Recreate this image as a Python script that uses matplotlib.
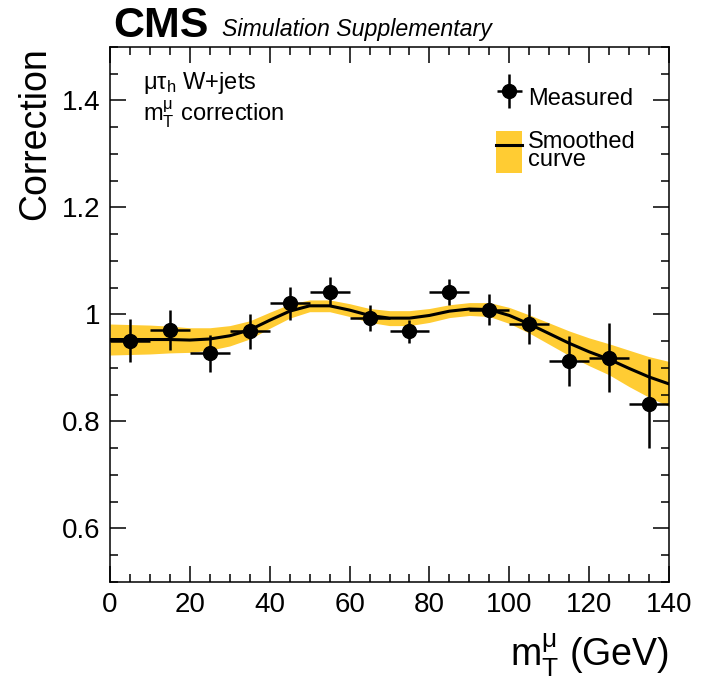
import numpy as np
import matplotlib
matplotlib.use("Agg")
import matplotlib.pyplot as plt
from matplotlib.patches import Patch
from matplotlib.lines import Line2D
from matplotlib.legend_handler import HandlerErrorbar, HandlerTuple
from matplotlib.ticker import MultipleLocator, FuncFormatter

plt.rcParams['font.family'] = ['Liberation Sans', 'DejaVu Sans']
plt.rcParams['mathtext.default'] = 'regular'

# Measured correction per 10 GeV bin in m_T
bin_centres = [5, 15, 25, 35, 45, 55, 65, 75, 85, 95, 105, 115, 125, 135]
bin_halfwidth = [5] * 14
corr = [0.951, 0.971, 0.927, 0.968, 1.021, 1.042, 0.993, 0.968, 1.042, 1.009,
        0.982, 0.913, 0.919, 0.833]
corr_err = [0.040, 0.038, 0.035, 0.032, 0.031, 0.027, 0.024, 0.022, 0.025, 0.029,
            0.038, 0.046, 0.065, 0.083]

# Smoothed curve and its uncertainty band
smooth_x = [0, 5, 10, 15, 20, 25, 30, 35, 40, 45, 50, 55, 60, 65, 70,
            75, 80, 85, 90, 95, 100, 105, 110, 115, 120, 125, 130, 135, 140]
smooth_y = [0.953, 0.953, 0.953, 0.953, 0.952, 0.954, 0.960, 0.971, 0.989, 1.006,
            1.016, 1.016, 1.008, 0.998, 0.993, 0.993, 0.998, 1.006, 1.010, 1.009,
            0.998, 0.982, 0.964, 0.946, 0.930, 0.916, 0.899, 0.883, 0.870]
smooth_err = [0.029, 0.028, 0.027, 0.025, 0.023, 0.021, 0.019, 0.017, 0.015, 0.013,
              0.011, 0.011, 0.012, 0.013, 0.014, 0.014, 0.013, 0.012, 0.012, 0.013,
              0.015, 0.017, 0.020, 0.023, 0.026, 0.029, 0.034, 0.038, 0.042]

band_col = '#ffcc33'

fig = plt.figure(figsize=(7.05, 6.79), dpi=100)
ax = fig.add_axes([0.156, 0.143, 0.793, 0.788])

sx = np.array(smooth_x)
sy = np.array(smooth_y)
se = np.array(smooth_err)
ax.fill_between(sx, sy - se, sy + se, color=band_col, lw=0, zorder=1)
ax.plot(sx, sy, color='black', lw=2.2, solid_joinstyle='round', zorder=2)

meas = ax.errorbar(bin_centres, corr, xerr=bin_halfwidth, yerr=corr_err, fmt='o',
                   color='black', ms=10, elinewidth=1.8, capsize=0, zorder=3)

ax.set_xlim(0, 140)
ax.set_ylim(0.5, 1.5)
ax.xaxis.set_major_locator(MultipleLocator(20))
ax.xaxis.set_minor_locator(MultipleLocator(5))
ax.yaxis.set_major_locator(MultipleLocator(0.2))
ax.yaxis.set_minor_locator(MultipleLocator(0.05))
ax.yaxis.set_major_formatter(FuncFormatter(lambda v, p: '%g' % round(v, 3)))
ax.tick_params(which='both', direction='in', top=True, right=True, width=1.1,
               labelsize=20)
ax.tick_params(which='major', length=11.5, pad=7)
ax.tick_params(which='minor', length=5.8)
for s in ax.spines.values():
    s.set_linewidth(1.1)

ax.set_ylabel('Correction', fontsize=27, loc='top', labelpad=6)
ax.set_xlabel(r'm$_{T}^{μ}$ (GeV)', fontsize=27, loc='right', labelpad=10)

fig.text(0.160, 0.9455, 'CMS', fontsize=31, fontweight='bold', ha='left', va='baseline')
fig.text(0.315, 0.947, 'Simulation Supplementary', fontsize=16.7, style='italic',
         ha='left', va='baseline')

ax.text(0.059, 0.922, r'μτ$_{h}$ W+jets', transform=ax.transAxes, fontsize=17,
        ha='left', va='baseline')
ax.text(0.059, 0.86, r'm$_{T}^{μ}$ correction', transform=ax.transAxes, fontsize=17,
        ha='left', va='baseline')

band_handle = (Patch(facecolor=band_col, edgecolor='none'),
               Line2D([], [], color='black', lw=2.2))
leg = ax.legend([meas, band_handle], ['Measured', 'Smoothed\ncurve'],
                loc='upper left', bbox_to_anchor=(0.691, 0.9445), frameon=False,
                fontsize=17, handlelength=1.1, handleheight=2.36,
                handletextpad=0.25, labelspacing=0.53, borderaxespad=0,
                borderpad=0,
                handler_map={type(meas): HandlerErrorbar(xerr_size=0.53, yerr_size=0.72),
                             tuple: HandlerTuple(ndivide=1, pad=0)})
for t in leg.get_texts():
    t.set_linespacing(0.75)

fig.savefig('out.png', dpi=100)
